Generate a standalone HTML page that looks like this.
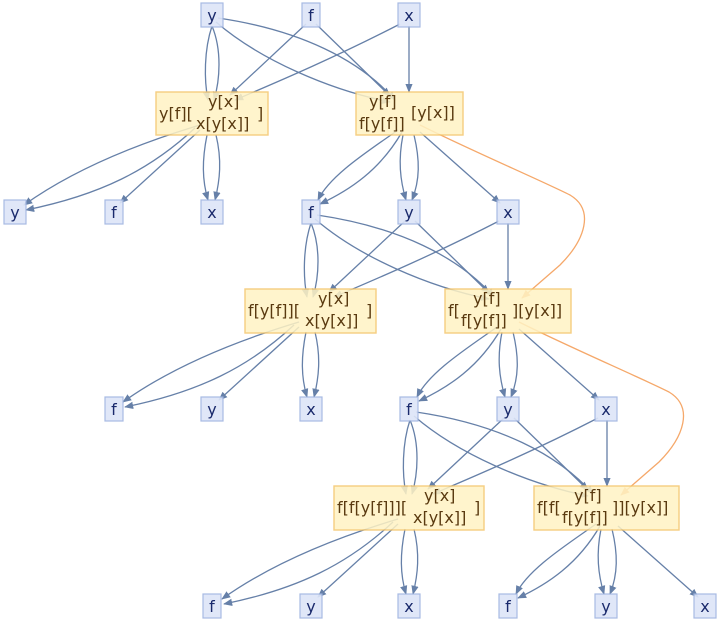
<!DOCTYPE html><html><head><style>body{margin:0;background:#fff;overflow:hidden}svg{display:block}</style></head><body>
<svg width="720" height="622" viewBox="0 0 720 622" xmlns="http://www.w3.org/2000/svg" font-family="'DejaVu Sans','Liberation Sans',sans-serif">
<defs>
<marker id="a" viewBox="0 0 10 10" refX="9" refY="5" markerWidth="7" markerHeight="7" orient="auto"><path d="M0,1 L10,5 L0,9z" fill="#6680a8"/></marker>
<marker id="o" viewBox="0 0 10 10" refX="9" refY="5" markerWidth="7" markerHeight="7" orient="auto"><path d="M0,1 L10,5 L0,9z" fill="#f5a86a"/></marker>
<g id="lvl">
<g fill="none" stroke="#6680a8" stroke-width="1.3" marker-end="url(#a)">
<path d="M212 26 C204 50 204 80 208 100"/><path d="M212 26 C222 50 220 80 214 100"/>
<path d="M218 18 C300 30 360 60 395 100"/><path d="M216 22 C260 60 330 90 390 102"/>
<path d="M306 24 L230 95"/><path d="M316 24 L390 96"/>
<path d="M400 24 C330 60 270 85 235 100"/><path d="M409 26 L409 92"/>
<path d="M200 125 C150 140 80 165 24 205"/><path d="M195 128 C150 170 100 195 26 210"/>
<path d="M200 130 L120 203"/>
<path d="M207 135 C202 160 202 180 208 200"/><path d="M216 135 C222 160 220 180 215 200"/>
<path d="M398 130 C370 150 330 175 318 200"/><path d="M402 132 C380 170 350 190 320 204"/>
<path d="M403 135 C398 160 400 180 406 200"/><path d="M414 135 C420 160 420 180 412 200"/>
<path d="M420 132 L500 203"/>
</g>
</g>
<path id="org" d="M420 125 C470 150 540 180 570 195 C595 210 585 240 560 265 L522 298" fill="none" stroke="#f5a86a" stroke-width="1.3" marker-end="url(#o)"/>
</defs>
<use href="#lvl"/>
<use href="#org"/>
<use href="#lvl" transform="translate(99,197)"/>
<use href="#org" transform="translate(99,197)"/>
<use href="#lvl" transform="translate(198,394)"/>
<g fill="#dde5f8" stroke="#9fb3e0" stroke-width="1.2" opacity="0.9">
<rect x="201" y="3" width="22" height="24"/><rect x="302" y="3" width="18" height="24"/><rect x="398" y="3" width="22" height="24"/>
<rect x="4" y="200" width="22" height="24"/><rect x="105" y="200" width="18" height="24"/><rect x="201" y="200" width="22" height="24"/><rect x="302" y="200" width="18" height="24"/><rect x="398" y="200" width="22" height="24"/><rect x="497" y="200" width="22" height="24"/>
<rect x="105" y="397" width="18" height="24"/><rect x="201" y="397" width="22" height="24"/><rect x="300" y="397" width="22" height="24"/><rect x="400" y="397" width="18" height="24"/><rect x="497" y="397" width="22" height="24"/><rect x="595" y="397" width="22" height="24"/>
<rect x="203" y="594" width="18" height="24"/><rect x="300" y="594" width="22" height="24"/><rect x="398" y="594" width="22" height="24"/><rect x="499" y="594" width="18" height="24"/><rect x="595" y="594" width="22" height="24"/><rect x="694" y="594" width="22" height="24"/>
</g>
<g fill="#1a2a6c" font-size="16" text-anchor="middle">
<text x="212" y="21">y</text><text x="311" y="21">f</text><text x="409" y="21">x</text>
<text x="15" y="218">y</text><text x="114" y="218">f</text><text x="212" y="218">x</text><text x="311" y="218">f</text><text x="409" y="218">y</text><text x="508" y="218">x</text>
<text x="114" y="415">f</text><text x="212" y="415">y</text><text x="311" y="415">x</text><text x="409" y="415">f</text><text x="508" y="415">y</text><text x="606" y="415">x</text>
<text x="212" y="612">f</text><text x="311" y="612">y</text><text x="409" y="612">x</text><text x="508" y="612">f</text><text x="606" y="612">y</text><text x="705" y="612">x</text>
</g>
<g fill="#fff3c4" stroke="#f5c56a" stroke-width="1.4" opacity="0.85">
<rect x="156" y="92" width="112" height="43"/><rect x="356" y="92" width="107" height="43"/>
<rect x="245" y="289" width="131" height="44"/><rect x="445" y="289" width="126" height="44"/>
<rect x="334" y="486" width="150" height="44"/><rect x="534" y="486" width="145" height="44"/>
</g>
<g fill="#5a3a10" font-size="16">
<text x="159" y="119">y[f][</text><text x="208" y="107">y[x]</text><text x="196" y="129">x[y[x]]</text><text x="257" y="119">]</text>
<text x="369" y="107">y[f]</text><text x="359" y="129">f[y[f]]</text><text x="411" y="118">[y[x]]</text>
<text x="248" y="316">f[y[f]][</text><text x="318" y="304">y[x]</text><text x="305" y="326">x[y[x]]</text><text x="366" y="316">]</text>
<text x="448" y="316">f[</text><text x="473" y="304">y[f]</text><text x="461" y="326">f[y[f]]</text><text x="512" y="316">][y[x]]</text>
<text x="337" y="513">f[f[y[f]]][</text><text x="424" y="501">y[x]</text><text x="413" y="523">x[y[x]]</text><text x="474" y="513">]</text>
<text x="537" y="513">f[f[</text><text x="574" y="501">y[f]</text><text x="562" y="523">f[y[f]]</text><text x="612" y="513">]][y[x]]</text>
</g>
</svg>
</body></html>
